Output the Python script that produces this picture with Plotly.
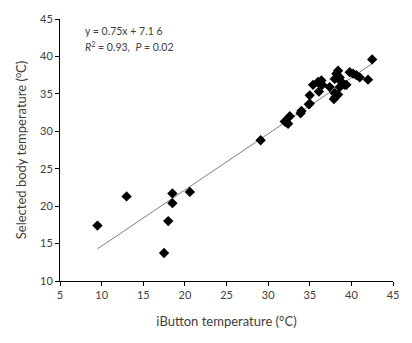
import plotly.graph_objects as go
import numpy as np

ibutton_temp = [9.5, 13.0, 18.5, 20.6, 18.5, 18.0, 17.5,
                29.1, 32.6, 32.0, 32.4, 32.2, 33.9, 34.0, 35.0, 34.9,
                35.4, 36.0, 36.5, 36.1, 36.4, 36.0, 35.0, 37.4,
                38.2, 38.6, 38.0, 38.8, 39.2, 38.6, 38.0, 38.1, 38.4, 37.9, 38.4,
                39.8, 40.2, 40.6, 41.0, 42.0, 42.5, 39.4]
body_temp = [17.4, 21.3, 21.7, 21.9, 20.4, 18.0, 13.75,
             28.8, 32.0, 31.3, 31.0, 31.2, 32.4, 32.7, 33.7, 33.6,
             36.2, 36.5, 36.2, 35.3, 36.8, 36.6, 34.8, 35.9,
             37.7, 37.2, 37.0, 36.6, 36.2, 35.9, 35.1, 34.6, 34.9, 34.3, 38.1,
             37.9, 37.7, 37.5, 37.2, 36.9, 39.6, 36.2]

slope = 0.75
intercept = 7.16
x_ticks = [5, 10, 15, 20, 25, 30, 35, 40, 45]
y_ticks = [10, 15, 20, 25, 30, 35, 40, 45]

fx = np.array([min(ibutton_temp), max(ibutton_temp)])
fy = slope * fx + intercept

fig = go.Figure()
fig.add_trace(go.Scatter(x=fx, y=fy, mode="lines",
                         line=dict(color="#7f7f7f", width=1), hoverinfo="skip"))
fig.add_trace(go.Scatter(x=ibutton_temp, y=body_temp, mode="markers",
                         marker=dict(symbol="diamond", size=8, color="black")))

font_fam = "Lato, 'Open Sans', sans-serif"
fig.update_layout(
    width=412, height=343,
    margin=dict(l=60, r=19, t=12, b=62),
    paper_bgcolor="white", plot_bgcolor="white",
    showlegend=False,
    font=dict(family=font_fam, color="#404040", size=11),
    xaxis=dict(range=[5, 45], tickvals=x_ticks, showgrid=False, zeroline=False,
               showline=True, linecolor="#000000", linewidth=1,
               ticks="outside", ticklen=4, tickcolor="#000000",
               title=dict(text="iButton temperature (°C)", font=dict(size=13, color="#404040"), standoff=16)),
    yaxis=dict(range=[10, 45], tickvals=y_ticks, showgrid=False, zeroline=False,
               showline=True, linecolor="#000000", linewidth=1,
               ticks="outside", ticklen=4, tickcolor="#000000",
               title=dict(text="Selected body temperature (<sup>o</sup>C)", font=dict(size=13, color="#404040"), standoff=10)),
    annotations=[
        dict(xref="paper", yref="paper", x=0.07, y=0.955, xanchor="left", yanchor="middle",
             text="y = 0.75x + 7.1 6", showarrow=False, font=dict(size=10.5, color="#404040")),
        dict(xref="paper", yref="paper", x=0.07, y=0.895, xanchor="left", yanchor="middle",
             text="<i>R</i><sup>2</sup> = 0.93,  <i>P</i> = 0.02", showarrow=False, font=dict(size=10.5, color="#404040")),
    ],
)

fig.write_html("out.html")
